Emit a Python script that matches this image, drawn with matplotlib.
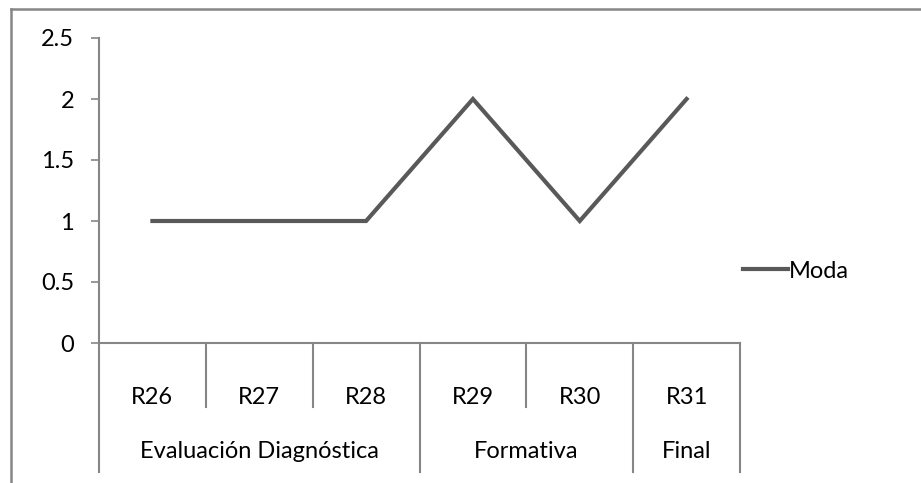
import matplotlib
matplotlib.use('Agg')
import matplotlib.pyplot as plt
from matplotlib.lines import Line2D

plt.rcParams['font.family'] = ['Lato', 'DejaVu Sans']

regions = ['R26', 'R27', 'R28', 'R29', 'R30', 'R31']
groups = ['Evaluación Diagnóstica', 'Formativa', 'Final']
group_sizes = [3, 2, 1]
moda = [1, 1, 1, 2, 1, 2]
yticks = [0, 0.5, 1, 1.5, 2, 2.5]

W, H = 921, 483
FS = 17
fig = plt.figure(figsize=(W / 100, H / 100), dpi=100)
ax = fig.add_axes([99 / W, (H - 343) / H, (740 - 99) / W, (343 - 38) / H])

axis_gray = '#868686'
line_gray = '#595959'

x = [i + 0.5 for i in range(len(regions))]
ax.plot(x, moda, color=line_gray, lw=3.0, solid_joinstyle='miter', label='Moda')

ax.set_xlim(0, len(regions))
ax.set_ylim(0, 2.5)
ax.set_yticks(yticks)
ax.set_yticklabels([f'{v:g}' for v in yticks])
ax.set_xticks([])
for s in ['top', 'right']:
    ax.spines[s].set_visible(False)
for s in ['left', 'bottom']:
    ax.spines[s].set_color(axis_gray)
    ax.spines[s].set_linewidth(1.5)
ax.tick_params(axis='y', length=6, width=1.2, color=axis_gray, labelsize=FS, pad=12)

# multi-level category axis
tr = ax.get_xaxis_transform()
short_y = -64 / 305
long_y = -129 / 305
edges = [0]
for n in group_sizes:
    edges.append(edges[-1] + n)
for i in range(1, len(regions)):
    if i not in edges:
        ax.add_line(Line2D([i, i], [0, short_y], transform=tr, color=axis_gray,
                           lw=1.5, clip_on=False))
for e in edges:
    ax.add_line(Line2D([e, e], [0, long_y], transform=tr, color=axis_gray,
                       lw=1.5, clip_on=False))
for xi, lab in zip(x, regions):
    ax.text(xi, -54 / 305, lab, transform=tr, ha='center', va='center', fontsize=FS)
for k, g in enumerate(groups):
    mid = (edges[k] + edges[k + 1]) / 2
    ax.text(mid, -109 / 305, g, transform=tr, ha='center', va='center', fontsize=FS)

leg = fig.legend(loc='center left', bbox_to_anchor=(722 / W, (H - 271) / H),
                 frameon=False, fontsize=FS, handlelength=1.9, handletextpad=0.05)

# outer chart frame
fig.add_artist(Line2D([11 / W, 1], [1 - 9 / H, 1 - 9 / H], color=axis_gray, lw=1.8))
fig.add_artist(Line2D([11 / W, 11 / W], [0, 1 - 9 / H], color=axis_gray, lw=1.8))

fig.savefig('out.png', dpi=100)
